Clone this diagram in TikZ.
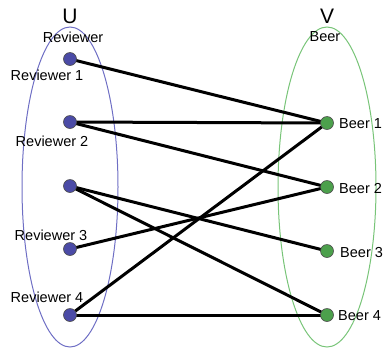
\documentclass[tikz,border=0pt]{standalone}
\usepackage{fontspec}
\setmainfont{Liberation Sans}
\definecolor{ublue}{HTML}{4B4BA6}
\definecolor{uline}{HTML}{6E6EC4}
\definecolor{vgreen}{HTML}{4CA04C}
\definecolor{vline}{HTML}{78C478}
\pgfdeclarelayer{bg}
\pgfsetlayers{bg,main}
\tikzset{
  unode/.style={circle,draw=black!70,line width=0.6pt,fill=ublue,minimum size=13pt,inner sep=0pt},
  vnode/.style={circle,draw=black!70,line width=0.6pt,fill=vgreen,minimum size=13pt,inner sep=0pt},
  lbl/.style={font=\fontsize{14.5}{15}\selectfont,inner sep=0pt},
  big/.style={font=\fontsize{21}{22}\selectfont,inner sep=0pt},
  edge/.style={line width=3pt,black},
}
\begin{document}
\begin{tikzpicture}[x=1pt,y=-1pt]
\useasboundingbox (0,0) rectangle (385,349);
\node[big] (U) at (70,16) {U};
\node[big] (V) at (327,16) {V};
\node[lbl] (rev) at (73,37) {Reviewer};
\node[lbl] (beer) at (325,37) {Beer};
\node[unode] (r1) at (70,59) {};
\node[unode] (r2) at (70,122) {};
\node[unode] (r5) at (70,186) {};
\node[unode] (r3) at (70,249) {};
\node[unode] (r4) at (70,315) {};
\node[vnode] (b1) at (327,123) {};
\node[vnode] (b2) at (327,187) {};
\node[vnode] (b3) at (327,251) {};
\node[vnode] (b4) at (327,315) {};
\node[lbl] (lr1) at (47,75) {Reviewer 1};
\node[lbl] (lr2) at (52,141) {Reviewer 2};
\node[lbl] (lr3) at (51,235) {Reviewer 3};
\node[lbl] (lr4) at (47,297) {Reviewer 4};
\node[lbl,anchor=west] (lb1) at (339,124) {Beer 1};
\node[lbl,anchor=west] (lb2) at (339,189) {Beer 2};
\node[lbl,anchor=west] (lb3) at (340,252) {Beer 3};
\node[lbl,anchor=west] (lb4) at (338,316) {Beer 4};
\begin{pgfonlayer}{bg}
\draw[uline,line width=1pt] (70,187) ellipse [x radius=48,y radius=160];
\draw[vline,line width=1pt] (327,187) ellipse [x radius=49,y radius=160];
\draw[edge] (r1.center) -- (b1.center);
\draw[edge] (r2.center) -- (b1.center);
\draw[edge] (r2.center) -- (b2.center);
\draw[edge] (r5.center) -- (b3.center);
\draw[edge] (r5.center) -- (b4.center);
\draw[edge] (r3.center) -- (b2.center);
\draw[edge] (r4.center) -- (b1.center);
\draw[edge] (r4.center) -- (b4.center);
\end{pgfonlayer}
\end{tikzpicture}
\end{document}
